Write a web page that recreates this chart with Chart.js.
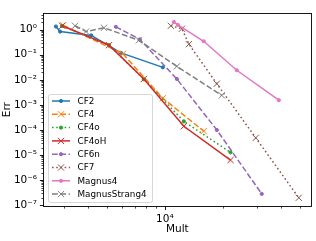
<!DOCTYPE html>
<html>
<head>
<meta charset="utf-8">
<script src="https://cdn.jsdelivr.net/npm/chart.js@4.4.1/dist/chart.umd.min.js"></script>
<style>
  html, body { margin: 0; padding: 0; background: #fff; }
  #wrap { width: 316px; height: 241px; position: relative; }
</style>
</head>
<body>
<div id="wrap"><canvas id="errChart"></canvas></div>
<script>
// values
const cf2Mult = [2720, 2860, 4150, 5920, 9760];
const cf2Err = [1.34, 0.84, 0.59, 0.119, 0.0315];

const cf4Mult = [2960, 6060, 9760, 15900];
const cf4Err = [1.5, 0.109, 0.00184, 9.0e-5];

const cf4oMult = [2930, 5130, 7780, 12540, 21900];
const cf4oErr = [1.4, 0.24, 0.0105, 2.2e-4, 1.28e-5];

const cf4oHMult = [2930, 5130, 7780, 12540, 21900];
const cf4oHErr = [1.43, 0.242, 0.0108, 1.41e-4, 6.3e-6];

const cf6nMult = [5570, 7420, 11540, 18600, 31800];
const cf6nErr = [1.30, 0.41, 0.0108, 1.0e-4, 2.83e-7];

const cf7Mult = [10740, 12250, 13320, 18600, 29600, 49500];
const cf7Err = [1.43, 1.09, 0.264, 0.0070, 4.85e-5, 1.98e-7];

const magnus4Mult = [11130, 11680, 15900, 23600, 39000];
const magnus4Err = [2.03, 1.56, 0.345, 0.0241, 0.00154];

const strang4Mult = [3420, 3900, 4830, 7330, 11540, 19740];
const strang4Err = [1.43, 0.84, 1.19, 0.377, 0.0344, 0.0024];

const xTickValues = [1e4];
const xTickLabels = ['10⁴'];
const yTickValues = [1e-7, 1e-6, 1e-5, 1e-4, 1e-3, 1e-2, 1e-1, 1];
const yTickLabels = ['10⁻⁷', '10⁻⁶', '10⁻⁵', '10⁻⁴', '10⁻³', '10⁻²', '10⁻¹', '10⁰'];

const xLimits = [2360, 57000];
const yLimits = [9.3e-8, 4.5];

const FONT = 'DejaVu Sans';
const DASHED = [5.8, 2.5];
const DOTTED = [1.6, 2.6];

const series = [
  { label: 'CF2', mult: cf2Mult, err: cf2Err, color: '#1f77b4', dash: [], marker: 'dot' },
  { label: 'CF4', mult: cf4Mult, err: cf4Err, color: '#ff7f0e', dash: DASHED, marker: 'x' },
  { label: 'CF4o', mult: cf4oMult, err: cf4oErr, color: '#2ca02c', dash: DOTTED, marker: 'dot' },
  { label: 'CF4oH', mult: cf4oHMult, err: cf4oHErr, color: '#d62728', dash: [], marker: 'x' },
  { label: 'CF6n', mult: cf6nMult, err: cf6nErr, color: '#9467bd', dash: DASHED, marker: 'dot' },
  { label: 'CF7', mult: cf7Mult, err: cf7Err, color: '#8c564b', dash: DOTTED, marker: 'x' },
  { label: 'Magnus4', mult: magnus4Mult, err: magnus4Err, color: '#e377c2', dash: [], marker: 'dot' },
  { label: 'MagnusStrang4', mult: strang4Mult, err: strang4Err, color: '#7f7f7f', dash: DASHED, marker: 'x' }
];

const datasets = series.map((s, i) => ({
  label: s.label,
  data: s.mult.map((m, j) => ({ x: m, y: s.err[j] })),
  borderColor: s.color,
  backgroundColor: s.color,
  borderWidth: 1.5,
  borderDash: s.dash,
  pointStyle: s.marker === 'x' ? 'crossRot' : 'circle',
  pointRadius: s.marker === 'x' ? 4.4 : 1.6,
  pointHoverRadius: s.marker === 'x' ? 4.4 : 1.6,
  pointBorderWidth: 1,
  tension: 0,
  order: series.length - i   // later series on top, like matplotlib
}));

function drawMarker(ctx, kind, x, y, color) {
  ctx.save();
  ctx.setLineDash([]);
  ctx.strokeStyle = color;
  ctx.fillStyle = color;
  ctx.lineWidth = 1;
  if (kind === 'x') {
    const r = 3.1;
    ctx.beginPath();
    ctx.moveTo(x - r, y - r); ctx.lineTo(x + r, y + r);
    ctx.moveTo(x - r, y + r); ctx.lineTo(x + r, y - r);
    ctx.stroke();
  } else {
    ctx.beginPath();
    ctx.arc(x, y, 1.6, 0, Math.PI * 2);
    ctx.fill();
    ctx.stroke();
  }
  ctx.restore();
}

function minorTicks(lo, hi) {
  const out = [];
  for (let k = Math.floor(Math.log10(lo)); k <= Math.ceil(Math.log10(hi)); k++) {
    for (let m = 2; m <= 9; m++) {
      const v = m * Math.pow(10, k);
      if (v > lo && v < hi) out.push(v);
    }
  }
  return out;
}

const framePlugin = {
  id: 'frame',
  afterDatasetsDraw(chart) {
    // legend box, upper-left of the lower half
    const ctx = chart.ctx;
    const bx = 48, by = 94, bw = 104, bh = 108;
    ctx.save();
    ctx.beginPath();
    ctx.roundRect(bx + 0.5, by + 0.5, bw, bh, 2);
    ctx.fillStyle = 'rgba(255,255,255,0.8)';
    ctx.fill();
    ctx.strokeStyle = 'rgba(204,204,204,0.8)';
    ctx.lineWidth = 1;
    ctx.stroke();
    ctx.font = '8.8px "' + FONT + '"';
    ctx.textBaseline = 'middle';
    ctx.textAlign = 'left';
    series.forEach((s, i) => {
      const y = 101 + i * 13.3;
      ctx.save();
      ctx.strokeStyle = s.color;
      ctx.lineWidth = 1.5;
      ctx.setLineDash(s.dash);
      ctx.beginPath();
      ctx.moveTo(52, y);
      ctx.lineTo(70, y);
      ctx.stroke();
      ctx.restore();
      drawMarker(ctx, s.marker, 61, y, s.color);
      ctx.fillStyle = '#000';
      ctx.fillText(s.label, 77.5, y + 0.5);
    });
    ctx.restore();
  },
  afterDraw(chart) {
    const ctx = chart.ctx;
    const a = chart.chartArea;
    const xs = chart.scales.x, ys = chart.scales.y;
    ctx.save();
    ctx.strokeStyle = '#000';
    ctx.lineWidth = 0.9;
    ctx.strokeRect(Math.round(a.left) - 0.5, Math.round(a.top) + 0.5,
      Math.round(a.right - a.left) + 1, Math.round(a.bottom - a.top));
    const bottom = Math.round(a.bottom) + 0.5;
    const left = Math.round(a.left) - 0.5;
    // major ticks
    ctx.lineWidth = 0.9;
    ctx.beginPath();
    xTickValues.forEach(v => {
      const px = Math.round(xs.getPixelForValue(v)) + 0.5;
      ctx.moveTo(px, bottom); ctx.lineTo(px, bottom + 3.6);
    });
    yTickValues.forEach(v => {
      const py = Math.round(ys.getPixelForValue(v)) + 0.5;
      ctx.moveTo(left, py); ctx.lineTo(left - 3.6, py);
    });
    ctx.stroke();
    // minor ticks
    ctx.lineWidth = 0.7;
    ctx.beginPath();
    minorTicks(xLimits[0], xLimits[1]).forEach(v => {
      const px = Math.round(xs.getPixelForValue(v)) + 0.5;
      ctx.moveTo(px, bottom); ctx.lineTo(px, bottom + 2.1);
    });
    minorTicks(yLimits[0], yLimits[1]).forEach(v => {
      const py = Math.round(ys.getPixelForValue(v)) + 0.5;
      ctx.moveTo(left, py); ctx.lineTo(left - 2.1, py);
    });
    ctx.stroke();
    ctx.restore();
  }
};

Chart.defaults.color = '#000';
Chart.defaults.font.family = FONT;

const ctx = document.getElementById('errChart').getContext('2d');
new Chart(ctx, {
  type: 'line',
  data: { datasets: datasets },
  plugins: [framePlugin],
  options: {
    responsive: true,
    maintainAspectRatio: false,
    animation: false,
    layout: { padding: { left: 0, right: 5, top: 7, bottom: 0 } },
    plugins: { legend: { display: false }, tooltip: { enabled: false } },
    scales: {
      x: {
        type: 'logarithmic',
        position: 'bottom',
        min: xLimits[0],
        max: xLimits[1],
        grid: { display: false, drawTicks: false },
        border: { display: false },
        afterBuildTicks: (scale) => { scale.ticks = xTickValues.map(v => ({ value: v })); },
        afterFit: (scale) => { scale.height = 35; },
        ticks: {
          autoSkip: false,
          maxRotation: 0,
          padding: 7,
          font: { size: 10.5 },
          callback: (value, index) => xTickLabels[index]
        },
        title: { display: true, text: 'Mult', font: { size: 10.5 }, padding: { top: 0, bottom: 5 } }
      },
      y: {
        type: 'logarithmic',
        position: 'left',
        min: yLimits[0],
        max: yLimits[1],
        grid: { display: false, drawTicks: false },
        border: { display: false },
        afterBuildTicks: (scale) => { scale.ticks = yTickValues.map(v => ({ value: v })); },
        afterFit: (scale) => { scale.width = 44; },
        ticks: {
          autoSkip: false,
          padding: 7,
          font: { size: 10.5 },
          callback: (value, index) => yTickLabels[index]
        },
        title: { display: true, text: 'Err', font: { size: 10.5 }, padding: { top: 1, bottom: 0 } }
      }
    }
  }
});
</script>
</body>
</html>
